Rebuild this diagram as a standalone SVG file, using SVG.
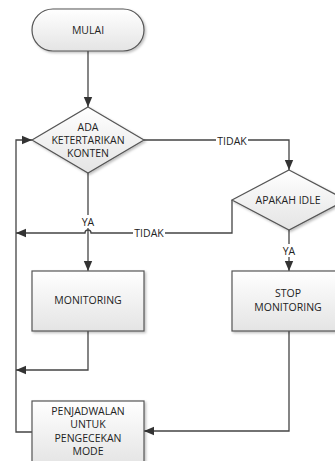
<svg xmlns="http://www.w3.org/2000/svg" width="335" height="461" viewBox="0 0 335 461">
<style>
.shape{fill:url(#g);stroke:#555;stroke-width:1.2;filter:url(#sh)}
.t{font-family:"Open Sans","Noto Sans",sans-serif;font-size:10.5px;fill:#222;text-anchor:middle}
.c{fill:none;stroke:#444;stroke-width:1.3}
.lb{fill:#fff}
</style>
<defs>
<linearGradient id="g" x1="0" y1="0" x2="0" y2="1">
<stop offset="0" stop-color="#ffffff"/>
<stop offset="1" stop-color="#e4e4e4"/>
</linearGradient>
<filter id="sh" x="-10%" y="-10%" width="130%" height="130%">
<feDropShadow dx="1.5" dy="1.5" stdDeviation="1" flood-color="#000" flood-opacity="0.25"/>
</filter>
<marker id="a" markerUnits="userSpaceOnUse" markerWidth="10" markerHeight="10" viewBox="0 0 10 10" refX="10" refY="5" orient="auto">
<path d="M0,0.8 L10,5 L0,9.2 Z" fill="#333"/>
</marker>
</defs>
<g id="connectors">
<path class="c" d="M88,51 L88,107" marker-end="url(#a)"/>
<path class="c" d="M144,140 L289,140 L289,170" marker-end="url(#a)"/>
<path class="c" d="M232,200 L232,233 L91,233 A3,3 0 0 0 85,233 L16,233" marker-end="url(#a)"/>
<path class="c" d="M88,173 L88,271" marker-end="url(#a)"/>
<path class="c" d="M289,230 L289,271" marker-end="url(#a)"/>
<path class="c" d="M88,331 L88,370 L16,370" marker-end="url(#a)"/>
<path class="c" d="M289,331 L289,431 L144,431" marker-end="url(#a)"/>
<path class="c" d="M32,432 L16,432 L16,140 L32,140" marker-end="url(#a)"/>
<rect class="lb" x="216" y="134" width="32" height="13"/>
<text class="t" x="232" y="144.5">TIDAK</text>
<rect class="lb" x="133" y="227" width="32" height="13"/>
<text class="t" x="149" y="237">TIDAK</text>
<rect class="lb" x="79" y="215" width="18" height="13"/>
<text class="t" x="88" y="225.5">YA</text>
<rect class="lb" x="280" y="244" width="18" height="13"/>
<text class="t" x="289" y="254.5">YA</text>
</g>
<g id="mulai">
<rect class="shape" x="32" y="9" width="112" height="42" rx="21" ry="21"/>
<text class="t" x="88" y="34">MULAI</text>
</g>
<g id="ada-ketertarikan">
<polygon class="shape" points="88,107 144,140 88,173 32,140"/>
<text class="t" x="88" y="130.5">ADA</text>
<text class="t" x="88" y="144">KETERTARIKAN</text>
<text class="t" x="88" y="157">KONTEN</text>
</g>
<g id="apakah-idle">
<polygon class="shape" points="289,170 346,200 289,230 232,200"/>
<text class="t" x="288" y="204">APAKAH IDLE</text>
</g>
<g id="monitoring">
<rect class="shape" x="32" y="271" width="112" height="60"/>
<text class="t" x="88" y="304">MONITORING</text>
</g>
<g id="stop-monitoring">
<rect class="shape" x="232" y="271" width="114" height="60"/>
<text class="t" x="288" y="297">STOP</text>
<text class="t" x="288" y="311">MONITORING</text>
</g>
<g id="penjadwalan">
<rect class="shape" x="32" y="401" width="112" height="64"/>
<text class="t" x="88" y="415">PENJADWALAN</text>
<text class="t" x="88" y="428">UNTUK</text>
<text class="t" x="88" y="441.5">PENGECEKAN</text>
<text class="t" x="88" y="455">MODE</text>
</g>
</svg>
